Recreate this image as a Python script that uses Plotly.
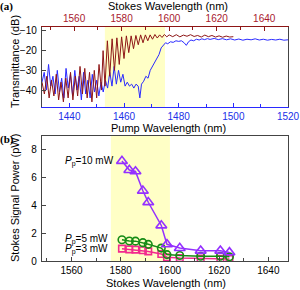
import plotly.graph_objects as go

# ---------------- data: panel (a) ----------------
# Stokes-side transmittance (red, plotted on top Stokes axis)
stokes_wl_a = [1546.5, 1547.5, 1548.5, 1549.5, 1550.5, 1551.5, 1552.5, 1553.5, 1554.5, 1555.5,
               1556.5, 1557.5, 1558.5, 1559.5, 1560.5, 1561.5, 1562.5, 1563.5, 1564.5, 1565.5,
               1566.5, 1567.5, 1568.5, 1569.5, 1570.5, 1571.5, 1572.2, 1573.0, 1574.0, 1575.0,
               1576.0, 1577.0, 1578.0, 1579.0, 1580.0, 1581.0, 1582.0, 1583.0, 1584.0, 1585.0,
               1586.0, 1587.0, 1588.0, 1589.0, 1590.0, 1591.0, 1592.0, 1593.0, 1594.0, 1595.0,
               1596.0, 1597.0, 1598.0, 1599.0, 1600.0, 1601.5, 1603.0, 1604.5, 1606.0, 1607.5,
               1609.0, 1610.5, 1612.0, 1613.5, 1615.0, 1616.5, 1618.0, 1619.5, 1621.0, 1622.5,
               1624.0, 1625.5, 1627.0]
stokes_trans = [-36, -42, -33, -44, -35, -43, -32, -45, -36, -46,
                -34, -44, -31, -45, -33, -43, -28, -42, -29, -44,
                -31, -46, -30, -44, -27, -40, -20, -38, -15, -33,
                -14, -30, -13.5, -27, -13, -24, -12.5, -21, -12.5, -19,
                -12.3, -17, -12, -16, -12, -15, -12, -14.2, -11.8, -13.6,
                -12, -13.3, -11.8, -13, -12, -12.9, -11.9, -13, -12.1, -12.7,
                -11.9, -12.8, -12.3, -13.1, -12.1, -12.9, -12.3, -13.1, -12.5, -13.2,
                -12.6, -13.1, -12.9]

# Pump-side transmittance (blue, plotted on bottom pump axis)
pump_wl_a = [1430.0, 1430.8, 1431.6, 1432.4, 1433.2, 1434.0, 1434.8, 1435.6, 1436.4, 1437.2,
             1438.0, 1438.8, 1439.6, 1440.4, 1441.2, 1442.0, 1442.8, 1443.6, 1444.4, 1445.2,
             1446.0, 1446.8, 1447.6, 1448.4, 1449.2, 1450.0, 1450.8, 1451.6, 1452.4, 1453.2,
             1454.0, 1454.8, 1455.6, 1456.4, 1457.2, 1458.0, 1458.8, 1459.6, 1460.4, 1461.2,
             1462.0, 1462.8, 1463.6, 1464.4, 1465.2, 1465.8, 1466.4, 1467.2, 1468.0, 1468.8,
             1469.6, 1470.4, 1471.2, 1472.0, 1472.8, 1473.6, 1474.4, 1475.2, 1476.0, 1477.0,
             1478.0, 1479.0, 1480.0, 1481.0, 1482.0, 1482.8, 1483.6, 1484.5, 1485.5, 1486.5,
             1487.5, 1488.5, 1489.5, 1490.5, 1491.5, 1493.0, 1494.5, 1496.0, 1497.5, 1499.0,
             1500.5, 1502.0, 1503.5, 1505.0, 1506.5, 1508.0, 1509.5, 1511.0, 1512.5, 1514.0,
             1515.5, 1517.0, 1518.5, 1520.0]
pump_trans = [-36, -31, -40, -27, -38, -33, -42, -30, -41, -34,
              -44, -29, -39, -32, -43, -30, -40, -33, -45, -31,
              -42, -35, -44, -32, -41, -35, -43, -36, -41, -35,
              -39, -31, -38, -28, -37, -30, -36, -32, -38, -36,
              -38, -37, -39, -37, -38, -44, -37, -35.5, -33, -34,
              -30, -28, -26, -24.5, -22, -18.6, -17, -16, -16.5, -15.5,
              -15.8, -15, -15.3, -15, -16, -17.3, -15.5, -14.6, -15, -14.2,
              -14.6, -14, -14.4, -13.9, -14.3, -13.8, -14.4, -13.9, -14.5, -14.0,
              -14.6, -14.1, -14.7, -14.2, -14.5, -14.0, -14.6, -14.2, -14.7, -14.3,
              -14.6, -14.2, -14.7, -14.5]

# ---------------- data: panel (b) ----------------
stokes_wl_b = [1580.5, 1583.5, 1586.0, 1589.0, 1591.2, 1596.5, 1598.8, 1604.0, 1612.5, 1620.5, 1624.2]
power_10mW = [7.2, 6.55, 6.45, 5.06, 4.23, 2.56, 1.2, 0.93, 0.74, 0.74, 0.62]
power_5mW = [1.53, 1.44, 1.43, 1.32, 1.2, 0.93, 0.46, 0.40, 0.34, 0.34, 0.30]
power_3mW = [0.89, 0.84, 0.82, 0.77, 0.69, 0.50, 0.27, 0.21, 0.17, 0.16, 0.14]

series_labels = ["<i>P</i><sub>p</sub>=10 mW", "<i>P</i><sub>p</sub>=5 mW", "<i>P</i><sub>p</sub>=3 mW"]

# highlighted wavelength bands
band_a_pump = (1453, 1475)
band_b_stokes = (1576, 1600)

# ---------------- styles ----------------
FONT = "Liberation Sans"
RED = "#8E1616"
BLUE = "#2A2AFF"
RED_TXT = "#A8182E"
BLUE_TXT = "#2030E8"
PURPLE = "#9430FF"
GREEN = "#168C16"
PINK = "#F22A8E"
YELLOW = "#FFFFC6"
AX = "#444444"

fig = go.Figure()

fig.add_trace(go.Scatter(x=stokes_wl_a, y=stokes_trans, xaxis="x2", yaxis="y",
                         mode="lines", line=dict(color=RED, width=1), showlegend=False))
fig.add_trace(go.Scatter(x=pump_wl_a, y=pump_trans, xaxis="x", yaxis="y",
                         mode="lines", line=dict(color=BLUE, width=1), showlegend=False))

for vals, col, sym, sz in [(power_3mW, PINK, "square-open", 6.5),
                           (power_5mW, GREEN, "circle-open", 7.5),
                           (power_10mW, PURPLE, "triangle-up-open", 9.5)]:
    fig.add_trace(go.Scatter(x=stokes_wl_b, y=vals, xaxis="x3", yaxis="y3",
                             mode="lines+markers",
                             line=dict(color=col, width=1.5),
                             marker=dict(symbol=sym, size=sz, color=col, line=dict(width=1.6, color=col)),
                             showlegend=False))

tickfont = dict(family=FONT, size=10, color="black")

fig.update_layout(
    width=300, height=290,
    margin=dict(l=42, r=12, t=27, b=29, autoexpand=False),
    paper_bgcolor="white", plot_bgcolor="white",
    font=dict(family=FONT, size=11, color="black"),
    xaxis=dict(domain=[0, 1], anchor="y", range=[1430, 1520], dtick=20, tick0=1440,
               ticks="inside", ticklen=4, tickcolor=BLUE, showgrid=False, zeroline=False,
               showline=True, linecolor=BLUE, linewidth=1.2, automargin=False,
               tickfont=dict(family=FONT, size=10, color=BLUE_TXT),
               minor=dict(dtick=10, ticks="inside", ticklen=3, tickcolor=BLUE)),
    xaxis2=dict(overlaying="x", side="top", anchor="y", range=[1546.5, 1650], dtick=20, tick0=1560,
                ticks="inside", ticklen=4, tickcolor=RED, showgrid=False, zeroline=False,
                showline=True, linecolor=RED, linewidth=1.2, automargin=False,
                tickfont=dict(family=FONT, size=10, color=RED_TXT),
                minor=dict(dtick=10, ticks="inside", ticklen=3, tickcolor=RED)),
    yaxis=dict(domain=[0.6581, 1], anchor="x", range=[-48.6, -8], dtick=10, tick0=-40,
               ticks="inside", ticklen=4, tickcolor=AX, showgrid=False, zeroline=False,
               showline=True, mirror=True, linecolor=AX, linewidth=1.2, tickfont=tickfont,
               ticklabelstandoff=2, automargin=False),
    xaxis3=dict(domain=[0, 1], anchor="y3", range=[1548, 1648], dtick=20, tick0=1560,
                ticks="inside", ticklen=4, tickcolor=AX, showgrid=False, zeroline=False,
                showline=True, mirror=True, linecolor=AX, linewidth=1.2, tickfont=tickfont,
                automargin=False,
                minor=dict(dtick=10, ticks="inside", ticklen=3, tickcolor=AX)),
    yaxis3=dict(domain=[0, 0.534], anchor="x3", range=[0, 9], dtick=2,
                ticks="inside", ticklen=4, tickcolor=AX, showgrid=False, zeroline=False,
                showline=True, mirror=True, linecolor=AX, linewidth=1.2, tickfont=tickfont,
                ticklabelstandoff=2, automargin=False),
)

fig.add_shape(type="rect", xref="x", yref="y domain", x0=band_a_pump[0], x1=band_a_pump[1],
              y0=0, y1=1, fillcolor=YELLOW, line=dict(width=0), layer="below")
fig.add_shape(type="rect", xref="x3", yref="y3 domain", x0=band_b_stokes[0], x1=band_b_stokes[1],
              y0=0, y1=1, fillcolor=YELLOW, line=dict(width=0), layer="below")

def px(xpix):
    return (xpix - 42) / 246.0

def py(ypix):
    return (261 - ypix) / 234.0

ann = [
    dict(text="Stokes Wavelength (nm)", x=px(168), y=py(6)),
    dict(text="Pump Wavelength (nm)", x=px(168), y=py(128)),
    dict(text="Stokes Wavelength (nm)", x=px(166), y=py(283)),
    dict(text="Transmittance (dB)", x=px(15), y=py(62), textangle=-90),
    dict(text="Stokes Signal Power (pW)", x=px(15), y=py(198), textangle=-90),
]
for a in ann:
    fig.add_annotation(xref="paper", yref="paper", showarrow=False, xanchor="center", yanchor="middle",
                       font=dict(family=FONT, size=11, color="black"), **a)

for lab, xx, yy in [("(a)", px(6), py(6)), ("(b)", px(7), py(139))]:
    fig.add_annotation(text="<b>" + lab + "</b>", xref="paper", yref="paper", x=xx, y=yy,
                       showarrow=False, xanchor="center", yanchor="middle",
                       font=dict(family="Liberation Serif", size=11, color="black"))

for lab, xx, yy in [(series_labels[0], 1578.0, 7.18), (series_labels[1], 1575.6, 1.55),
                    (series_labels[2], 1575.6, 0.82)]:
    fig.add_annotation(text=lab, xref="x3", yref="y3", x=xx, y=yy, showarrow=False,
                       xanchor="right", yanchor="middle",
                       font=dict(family=FONT, size=10, color="black"))

fig.write_html("out.html", config={"displayModeBar": False, "staticPlot": True},
               post_script="document.body.style.margin='0';document.body.style.overflow='hidden';")
